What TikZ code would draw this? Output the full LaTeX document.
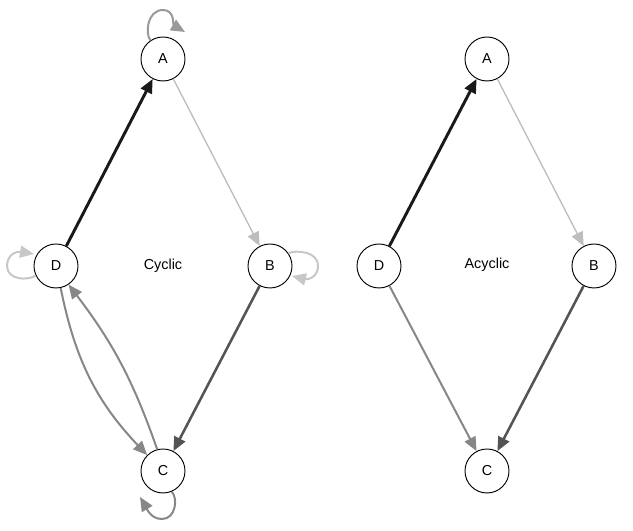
\documentclass[tikz,border=0pt]{standalone}
\usepackage{fontspec}
\setmainfont{Liberation Sans}
\usetikzlibrary{arrows.meta}

\begin{document}
\begin{tikzpicture}[
		x=0.75pt, y=0.75pt
		,every node/.append style={font=\fontsize{10.8}{13}\selectfont}
		,v/.style={circle, draw, fill=white, line width=0.7pt, minimum size=33pt, inner sep=0pt}
		,e/.style={-{Triangle[length=10.5pt, width=9pt]}}
		,k/.style={e, draw=black!90, line width=2.2pt}
		,lg/.style={e, draw=black!26, line width=1pt}
		,dg/.style={e, draw=black!67, line width=1.9pt}
		,mg/.style={e, draw=black!47, line width=1.5pt}
		,lp/.style={e, line width=1.5pt}
	]
	\useasboundingbox (0,0) rectangle (633,531);

	% cyclic
	\node [v] (A) at (163,472) {A};
	\node [v] (D) at (56,265) {D};
	\node [v] (B) at (270,265) {B};
	\node [v] (C) at (163,60) {C};
	\node (cyc) at (163,265) {Cyclic};

	\coordinate (At) at (185,499);
	\coordinate (Dt) at (34,277);
	\coordinate (Bt) at (292,255);
	\coordinate (Ct) at (140,34);

	\draw [k] (D) -- (A);
	\draw [lg] (A) -- (B);
	\draw [dg] (B) -- (C);
	\draw [mg] (D.-78) to[bend right=16] (C.135);
	\draw [mg] (C.105) to[bend right=9] (D.-56);

	\draw [lp, draw=black!40] (A.124) .. controls (145,497) and (147,521) .. (163,521) .. controls (175,521) and (173,506) .. (At);
	\draw [lp, draw=black!22] (D.-155) .. controls (28,250) and (7,251) .. (7,265) .. controls (7,276) and (16,280) .. (Dt);
	\draw [lp, draw=black!22] (B.35) .. controls (296,281) and (318,280) .. (318,265) .. controls (318,254) and (308,251) .. (Bt);
	\draw [lp, draw=black!47] (C.-67) .. controls (178,33) and (176,12) .. (162,12) .. controls (150,12) and (146,24) .. (Ct);

	% acyclic
	\node [v] (A2) at (487,472) {A};
	\node [v] (D2) at (379,265) {D};
	\node [v] (B2) at (594,265) {B};
	\node [v] (C2) at (487,60) {C};
	\node (acyc) at (487,266) {Acyclic};

	\draw [k] (D2) -- (A2);
	\draw [lg] (A2) -- (B2);
	\draw [dg] (B2) -- (C2);
	\draw [mg] (D2) -- (C2);
\end{tikzpicture}
\end{document}
